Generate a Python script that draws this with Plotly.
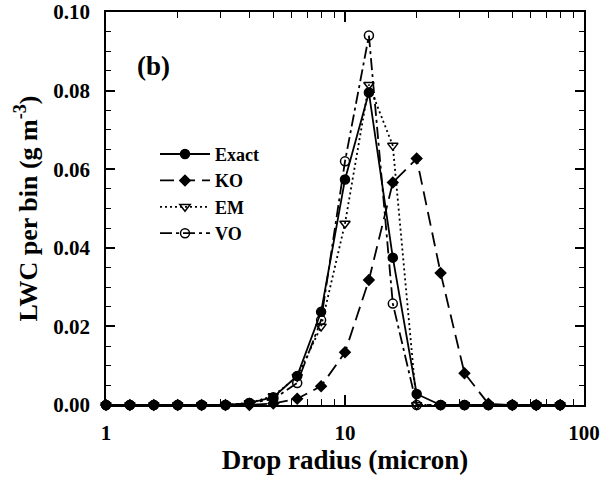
import plotly.graph_objects as go

radius = [1.0, 1.259, 1.585, 1.995, 2.512, 3.162, 3.981, 5.012, 6.310, 7.943,
          10.0, 12.59, 15.85, 19.95, 25.12, 31.62, 39.81, 50.12, 63.10, 79.43]

exact = [0, 0, 0, 0, 0, 0, 0.0005, 0.0020, 0.0074, 0.0237,
         0.0574, 0.0795, 0.0375, 0.0028, 0, 0, 0, 0, 0, 0]
ko = [0, 0, 0, 0, 0, 0, 0, 0.0004, 0.0016, 0.0048,
      0.0134, 0.0318, 0.0566, 0.0627, 0.0336, 0.0081, 0.0003, 0, 0, 0]
em = [0, 0, 0, 0, 0, 0, 0.0005, 0.0023, 0.0072, 0.0200,
      0.0462, 0.0815, 0.0660, 0, 0, 0, 0, 0, 0, 0]
vo = [0, 0, 0, 0, 0, 0, 0.0005, 0.0015, 0.0056, 0.0216,
      0.0620, 0.0940, 0.0258, 0, 0, 0, 0, 0, 0, 0]

FONT = "Liberation Serif"

fig = go.Figure()
series = [
    ("Exact", exact, "solid", "circle", 9),
    ("KO", ko, "14px,7px", "diamond", 8),
    ("EM", em, "2px,3px", "triangle-down-open", 9),
    ("VO", vo, "12px,4px,3px,4px", "circle-open", 9),
]
for name, ys, dash, sym, sz in series:
    fig.add_trace(go.Scatter(
        x=radius, y=ys, name=name, mode="lines+markers",
        line=dict(color="black", width=1.8, dash=dash),
        marker=dict(symbol=sym, size=sz, color="black",
                    line=dict(color="black", width=1.5)),
        cliponaxis=False,
    ))

fig.update_layout(
    width=611, height=487,
    margin=dict(l=106, r=27, t=12, b=82, autoexpand=False),
    paper_bgcolor="white", plot_bgcolor="white",
    font=dict(family=FONT, size=21, color="black", weight="bold"),
    showlegend=True,
    legend=dict(x=0.1025, y=0.685, xanchor="left", yanchor="top",
                bgcolor="rgba(0,0,0,0)", font=dict(size=18, weight="bold"),
                tracegroupgap=0, itemwidth=50),
    annotations=[dict(text="(b)", x=0.1, y=0.862, xref="paper", yref="paper",
                      xanchor="center", yanchor="middle",
                      showarrow=False, font=dict(size=27, weight="bold"))],
)

fig.update_xaxes(
    type="log", range=[0, 2], automargin=False,
    tickvals=[1, 10, 100], ticktext=["1", "10", "100"],
    ticks="inside", ticklen=10, tickwidth=1.5, tickcolor="black",
    minor=dict(ticks="inside", ticklen=6, tickwidth=1.2, tickcolor="black",
               tickvals=[m * d for d in (1, 10) for m in range(2, 10)], showgrid=False),
    showline=True, linecolor="black", linewidth=1.8, mirror="allticks",
    showgrid=False, zeroline=False, ticklabelstandoff=8,
    title=dict(text="Drop radius (micron)", font=dict(size=27, weight="bold"), standoff=4),
    tickfont=dict(size=21, weight="bold"),
)
fig.update_yaxes(
    range=[0, 0.1], dtick=0.02, tickformat=".2f", automargin=False,
    ticks="inside", ticklen=9, tickwidth=1.5, tickcolor="black",
    minor=dict(ticks="inside", ticklen=5, tickwidth=1.2, tickcolor="black", dtick=0.005, showgrid=False),
    showline=True, linecolor="black", linewidth=1.8, mirror="allticks",
    showgrid=False, zeroline=False, ticklabelstandoff=10,
    title=dict(text="LWC per bin (g m<sup>-3</sup>)", font=dict(size=26, weight="bold"), standoff=8),
    tickfont=dict(size=21, weight="bold"),
)

fig.write_html("out.html")
